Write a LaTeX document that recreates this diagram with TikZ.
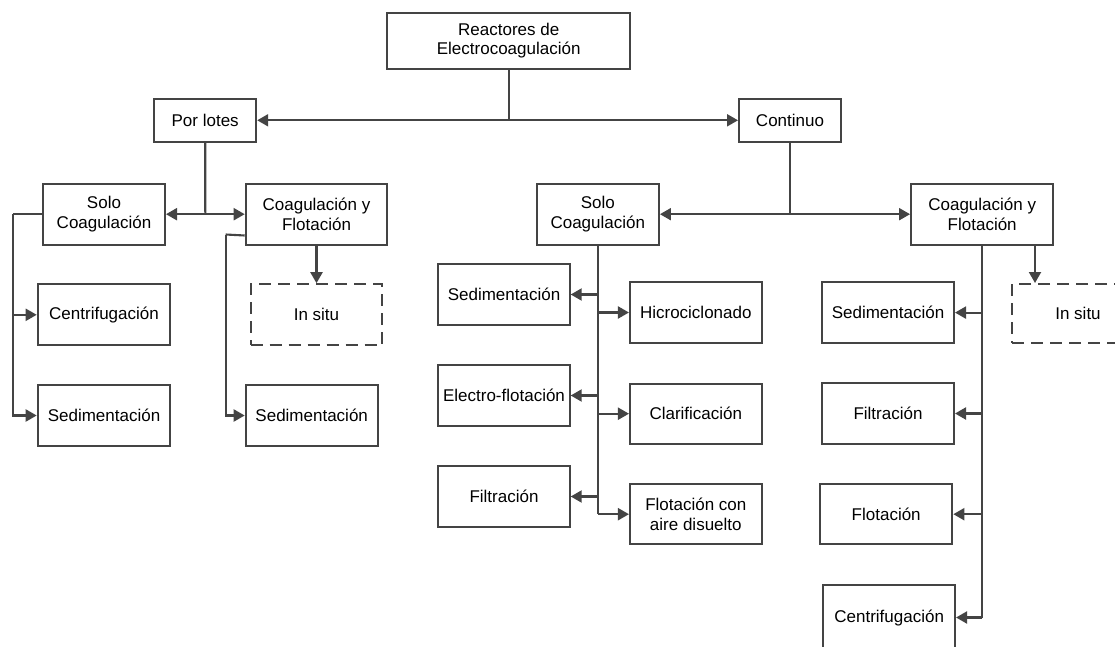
\documentclass[tikz,border=0pt]{standalone}
\usepackage{fontspec}
\setmainfont{Liberation Sans}
\usetikzlibrary{arrows.meta}
\definecolor{linec}{RGB}{68,68,68}
\tikzset{
  box/.style={draw=linec, line width=2pt, rectangle, align=center, inner sep=2pt,
    font=\fontsize{17pt}{19.5pt}\selectfont, text=black},
  dashbox/.style={box, dash pattern=on 12pt off 7pt},
  conn/.style={draw=linec, line width=2.1pt},
  arr/.style={conn, -{Triangle[length=11pt,width=12pt]}},
}
\begin{document}
\begin{tikzpicture}[x=1pt, y=-1pt]
\useasboundingbox (0,0) rectangle (1115,647);
\clip (0,0) rectangle (1115,647);
\fill[white] (0,0) rectangle (1115,647);

% first levels
\node[box, minimum width=243pt, minimum height=56pt] (root) at (508.7,40.8) {Reactores de\\Electrocoagulación};
\node[box, minimum width=102pt, minimum height=42.7pt] (lotes) at (205.2,120.3) {Por lotes};
\node[box, minimum width=102pt, minimum height=42.7pt] (cont) at (790,120.3) {Continuo};

\node[box, minimum width=122pt, minimum height=61pt] (solo1) at (104,214.2) {Solo\\Coagulación};
\node[box, minimum width=141.6pt, minimum height=61pt] (cf1) at (316.5,214.2) {Coagulación y\\Flotación};
\node[box, minimum width=122.3pt, minimum height=61pt] (solo2) at (597.8,214.2) {Solo\\Coagulación};
\node[box, minimum width=142.3pt, minimum height=61pt] (cf2) at (982.2,214.2) {Coagulación y\\Flotación};

% batch branch
\node[box, minimum width=132.6pt, minimum height=61pt] (centri1) at (104,314.8) {Centrifugación};
\node[box, minimum width=132.6pt, minimum height=61pt] (sedi1) at (104,415.5) {Sedimentación};
\node[dashbox, minimum width=131.6pt, minimum height=61pt] (insitu1) at (316.5,314.7) {In situ};
\node[box, minimum width=132pt, minimum height=61pt] (sedi2) at (311.7,415.5) {Sedimentación};

% continuous, coagulation only
\node[box, minimum width=131.4pt, minimum height=60.4pt] (sedi3) at (504,294.5) {Sedimentación};
\node[box, minimum width=131.4pt, minimum height=60.4pt] (electro) at (504,395.5) {Electro-flotación};
\node[box, minimum width=131.4pt, minimum height=60.4pt] (filt3) at (504,496.5) {Filtración};
\node[box, minimum width=131.7pt, minimum height=60.4pt] (hidro) at (695.8,312.5) {Hicrociclonado};
\node[box, minimum width=131.7pt, minimum height=60.4pt] (clar) at (695.8,413.7) {Clarificación};
\node[box, minimum width=131.7pt, minimum height=60.4pt] (fca) at (695.8,514.2) {Flotación con\\aire disuelto};

% continuous, coagulation and flotation
\node[box, minimum width=132pt, minimum height=60.7pt] (sedi4) at (888,312.6) {Sedimentación};
\node[box, minimum width=132pt, minimum height=60.4pt] (filt4) at (888,413.5) {Filtración};
\node[box, minimum width=132.3pt, minimum height=60.3pt] (flot4) at (886.2,514.2) {Flotación};
\node[box, minimum width=131.7pt, minimum height=65pt] (centri4) at (889.2,617.5) {Centrifugación};
\node[dashbox, minimum width=132pt, minimum height=59pt] (insitu4) at (1078,313.5) {In situ};

% junctions
\coordinate (j0) at (508.7,120.3);
\coordinate (j1) at (205.3,214.2);
\coordinate (j2) at (790,214.2);
\coordinate (t1) at (13.3,214.2);
\coordinate (t2) at (225.7,234.5);

% connectors
\draw[conn] (root.south) -- (j0);
\draw[arr] (j0) -- (lotes.east);
\draw[arr] (j0) -- (cont.west);

\draw[conn] (lotes.south) -- (j1);
\draw[arr] (j1) -- (solo1.east);
\draw[arr] (j1) -- (cf1.west);

\draw[conn] (cont.south) -- (j2);
\draw[arr] (j2) -- (solo2.east);
\draw[arr] (j2) -- (cf2.west);

\draw[conn] (solo1.west) -- (t1);
\draw[arr] (t1) |- (centri1.west);
\draw[arr] (t1) |- (sedi1.west);

\draw[conn] ([yshift=10.2pt]cf1.south west) -- (t2);
\draw[arr] (t2) |- (sedi2.west);
\draw[arr] (cf1.south) -- (insitu1.north);

\draw[conn] (solo2.south) -- (solo2.south |- fca.west);
\draw[arr] (solo2.south |- sedi3.east) -- (sedi3.east);
\draw[arr] (solo2.south |- electro.east) -- (electro.east);
\draw[arr] (solo2.south |- filt3.east) -- (filt3.east);
\draw[arr] (solo2.south |- hidro.west) -- (hidro.west);
\draw[arr] (solo2.south |- clar.west) -- (clar.west);
\draw[arr] (solo2.south |- fca.west) -- (fca.west);

\draw[conn] (cf2.south) -- (cf2.south |- centri4.east);
\draw[arr] (cf2.south |- sedi4.east) -- (sedi4.east);
\draw[arr] (cf2.south |- filt4.east) -- (filt4.east);
\draw[arr] (cf2.south |- flot4.east) -- (flot4.east);
\draw[arr] (cf2.south |- centri4.east) -- (centri4.east);
\draw[arr] ([xshift=52.8pt]cf2.south) -- ([xshift=52.8pt]cf2.south |- insitu4.north);
\end{tikzpicture}
\end{document}
